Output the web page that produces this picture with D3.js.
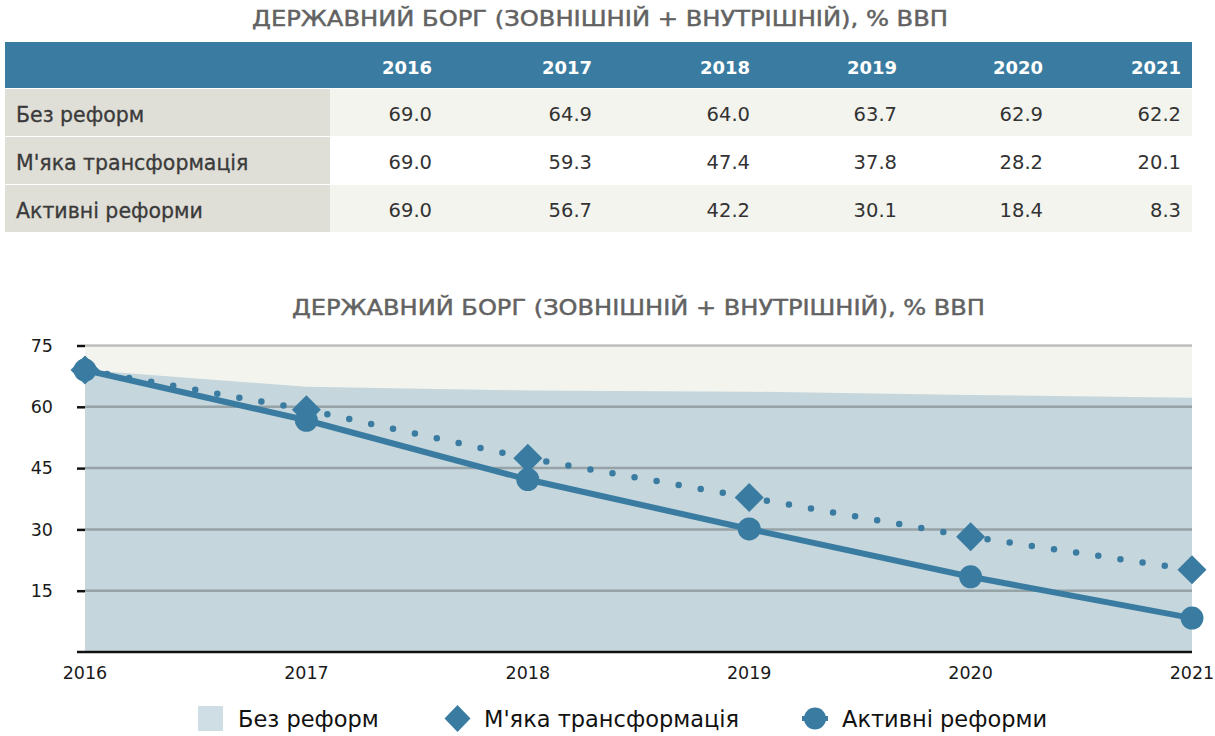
<!DOCTYPE html>
<html>
<head>
<meta charset="utf-8">
<script src="https://cdn.jsdelivr.net/npm/d3@7"></script>
<style>
  body { margin: 0; background: #fff; }
  text { font-family: "DejaVu Sans", "Liberation Sans", Arial, sans-serif; }
</style>
</head>
<body>
<svg id="chart" width="1215" height="736"></svg>
<script>
var title = "ДЕРЖАВНИЙ БОРГ (ЗОВНІШНІЙ + ВНУТРІШНІЙ), % ВВП";
var years = [2016, 2017, 2018, 2019, 2020, 2021];
var seriesNames = ["Без реформ", "М'яка трансформація", "Активні реформи"];
var noReform = [69.0, 64.9, 64.0, 63.7, 62.9, 62.2];
var softTransform = [69.0, 59.3, 47.4, 37.8, 28.2, 20.1];
var activeReform = [69.0, 56.7, 42.2, 30.1, 18.4, 8.3];
var yTicks = [15, 30, 45, 60, 75];

var blue = "#3a7ca1",
    areaFill = "#c5d6dc",
    beige = "#f3f4ee",
    labelGrey = "#dfded7";

var svg = d3.select("#chart");

function addTitle(cx, baseY, width) {
  svg.append("text")
      .attr("x", cx).attr("y", baseY)
      .attr("text-anchor", "middle")
      .attr("fill", "#626262")
      .attr("stroke", "#626262")
      .attr("stroke-width", 0.45)
      .attr("font-size", 20.5)
      .attr("textLength", width)
      .attr("lengthAdjust", "spacingAndGlyphs")
      .text(title);
}

// ---- table ----
var tbl = { left: 5, right: 1192, labelRight: 330, headTop: 42, headH: 46, rowH: 48 };
// right edge of every number column
var colRight = [432, 592, 750, 897, 1043, 1181];
var rows = [noReform, softTransform, activeReform];

addTitle(600, 26, 696);

svg.append("rect")
    .attr("x", tbl.left).attr("y", tbl.headTop)
    .attr("width", tbl.right - tbl.left).attr("height", tbl.headH)
    .attr("fill", blue);

svg.selectAll(".head")
    .data(years)
  .enter().append("text")
    .attr("class", "head")
    .attr("x", function (d, i) { return colRight[i]; })
    .attr("y", tbl.headTop + 32)
    .attr("text-anchor", "end")
    .attr("fill", "#fff")
    .attr("font-size", 18)
    .attr("font-weight", "bold")
    .text(function (d) { return d; });

var rowG = svg.selectAll(".row")
    .data(rows)
  .enter().append("g")
    .attr("class", "row")
    .attr("transform", function (d, i) {
      return "translate(0," + (tbl.headTop + tbl.headH + 1 + i * tbl.rowH) + ")";
    });

rowG.append("rect")
    .attr("x", tbl.labelRight).attr("width", tbl.right - tbl.labelRight)
    .attr("height", tbl.rowH - 1)
    .attr("fill", function (d, i) { return i === 1 ? "#fff" : beige; });

rowG.append("rect")
    .attr("x", tbl.left).attr("width", tbl.labelRight - tbl.left)
    .attr("height", tbl.rowH - 1)
    .attr("fill", labelGrey);

rowG.append("text")
    .attr("x", 16).attr("y", 33)
    .attr("fill", "#3a3a3a")
    .attr("stroke", "#3a3a3a")
    .attr("stroke-width", 0.3)
    .attr("font-size", 20.5)
    .text(function (d, i) { return seriesNames[i]; });

rowG.selectAll(".val")
    .data(function (d) { return d; })
  .enter().append("text")
    .attr("class", "val")
    .attr("x", function (d, i) { return colRight[i]; })
    .attr("y", 32)
    .attr("text-anchor", "end")
    .attr("fill", "#333")
    .attr("font-size", 19.5)
    .text(function (d) { return d.toFixed(1); });

// ---- chart ----
var m = { left: 85, right: 1192, top: 345.5, bottom: 652 };

addTitle((m.left + m.right) / 2, 315, 693);

var x = d3.scalePoint().domain(years).range([m.left, m.right]);
var y = d3.scaleLinear().domain([0, 75]).range([m.bottom, m.top]);

svg.append("rect")
    .attr("x", m.left).attr("y", m.top)
    .attr("width", m.right - m.left).attr("height", m.bottom - m.top)
    .attr("fill", beige);

var area = d3.area()
    .x(function (d, i) { return x(years[i]); })
    .y0(y(0))
    .y1(function (d) { return y(d); });

svg.append("path")
    .datum(noReform)
    .attr("d", area)
    .attr("fill", areaFill);

svg.selectAll(".grid")
    .data(yTicks)
  .enter().append("line")
    .attr("class", "grid")
    .attr("x1", m.left).attr("x2", m.right)
    .attr("y1", y).attr("y2", y)
    .attr("stroke", "rgba(0,0,0,0.24)")
    .attr("stroke-width", 2.5);

var yAxis = svg.append("g")
    .attr("transform", "translate(" + m.left + ",0)")
    .call(d3.axisLeft(y).tickValues(yTicks).tickSize(8).tickPadding(24));
yAxis.select(".domain").remove();
yAxis.selectAll(".tick line").attr("stroke", "#111").attr("stroke-width", 2.5);
yAxis.selectAll(".tick text")
    .attr("font-size", 17.5).attr("fill", "#1a1a1a")
    .attr("font-family", "DejaVu Sans, sans-serif");

svg.append("line")
    .attr("x1", m.left - 8).attr("x2", m.right)
    .attr("y1", m.bottom).attr("y2", m.bottom)
    .attr("stroke", "#111").attr("stroke-width", 2.5);

svg.selectAll(".xlab")
    .data(years)
  .enter().append("text")
    .attr("class", "xlab")
    .attr("x", function (d) { return x(d); })
    .attr("y", m.bottom + 27)
    .attr("text-anchor", "middle")
    .attr("font-size", 17.5).attr("fill", "#1a1a1a")
    .text(function (d) { return d; });

var line = d3.line()
    .x(function (d, i) { return x(years[i]); })
    .y(function (d) { return y(d); });

svg.append("path")
    .datum(softTransform)
    .attr("d", line)
    .attr("fill", "none")
    .attr("stroke", blue)
    .attr("stroke-width", 6.5)
    .attr("stroke-linecap", "round")
    .attr("stroke-dasharray", "0 22.4");

svg.append("path")
    .datum(activeReform)
    .attr("d", line)
    .attr("fill", "none")
    .attr("stroke", blue)
    .attr("stroke-width", 6);

svg.selectAll(".dot")
    .data(activeReform)
  .enter().append("circle")
    .attr("class", "dot")
    .attr("cx", function (d, i) { return x(years[i]); })
    .attr("cy", y)
    .attr("r", 11.5)
    .attr("fill", blue);

function diamond(w, h) {
  return "M0," + (-h) + "L" + w + ",0L0," + h + "L" + (-w) + ",0Z";
}

svg.selectAll(".dia")
    .data(softTransform)
  .enter().append("path")
    .attr("class", "dia")
    .attr("transform", function (d, i) { return "translate(" + x(years[i]) + "," + y(d) + ")"; })
    .attr("d", diamond(14.5, 14.5))
    .attr("fill", blue);

// ---- legend ----
var legY = 718.5;
var leg = svg.append("g");

leg.append("rect")
    .attr("x", 198).attr("y", legY - 12.5)
    .attr("width", 25).attr("height", 25)
    .attr("fill", "#cfdde4");
leg.append("path")
    .attr("transform", "translate(457.5," + legY + ")")
    .attr("d", diamond(13, 13.5))
    .attr("fill", blue);
leg.append("line")
    .attr("x1", 802).attr("x2", 828)
    .attr("y1", legY).attr("y2", legY)
    .attr("stroke", blue).attr("stroke-width", 5);
leg.append("circle")
    .attr("cx", 815).attr("cy", legY).attr("r", 11)
    .attr("fill", blue);

leg.selectAll(".legtxt")
    .data([238, 484, 842])
  .enter().append("text")
    .attr("x", function (d) { return d; })
    .attr("y", legY + 8.5)
    .attr("font-size", 22.5)
    .attr("fill", "#111")
    .text(function (d, i) { return seriesNames[i]; });
</script>
</body>
</html>
